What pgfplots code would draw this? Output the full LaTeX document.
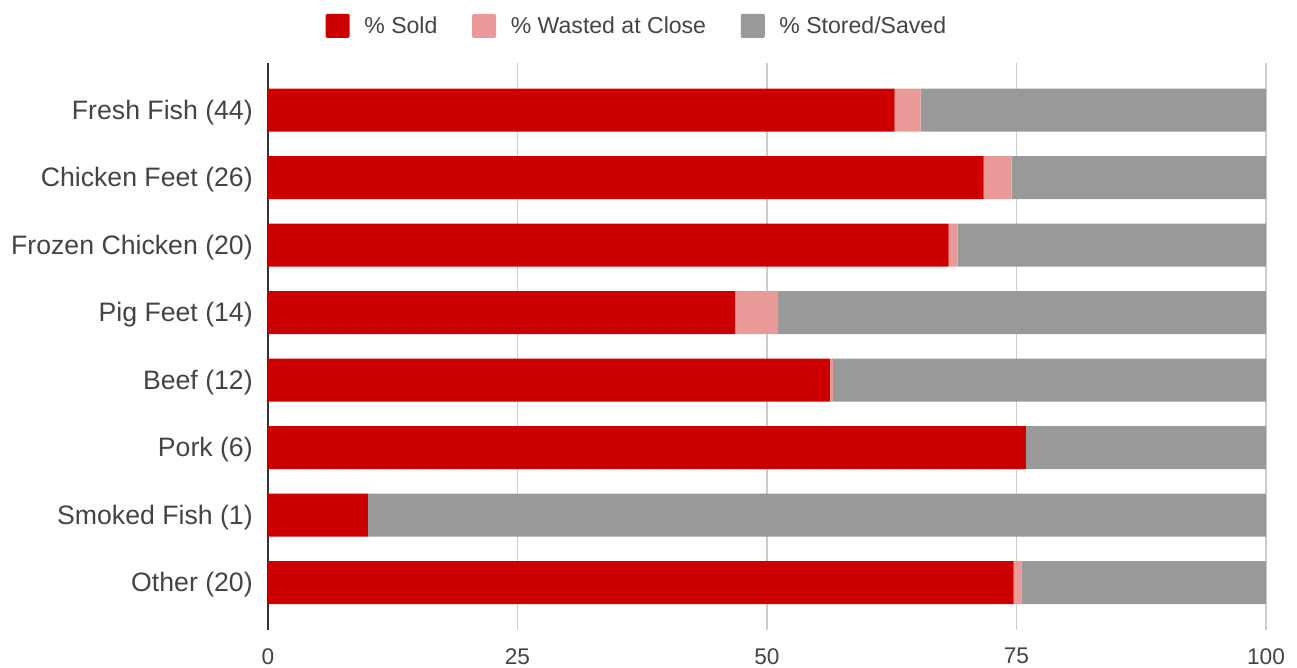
\documentclass[border=0pt]{standalone}
\usepackage{fontspec}
\setmainfont{Liberation Sans}
\usepackage{pgfplots}
\pgfplotsset{compat=1.18}
\definecolor{sold}{HTML}{CC0000}
\definecolor{waste}{HTML}{EA9999}
\definecolor{stored}{HTML}{999999}
\definecolor{txt}{HTML}{444444}
\definecolor{gridc}{HTML}{CCCCCC}
\definecolor{axc}{HTML}{333333}
\begin{document}
\begin{tikzpicture}
\begin{axis}[
  name=plot,
  scale only axis,
  width=748.5pt, height=425.25pt,
  xbar stacked, bar width=32.25pt,
  xmin=0, xmax=100,
  ymin=-0.7, ymax=7.7, y dir=reverse,
  ytick={0,1,2,3,4,5,6,7},
  yticklabels={Fresh Fish (44),Chicken Feet (26),Frozen Chicken (20),Pig Feet (14),Beef (12),Pork (6),Smoked Fish (1),Other (20)},
  xtick={0,25,50,75,100},
  major tick length=0pt,
  axis lines=left,
  axis line style={-},
  x axis line style={draw=none},
  y axis line style={draw=axc, line width=1.5pt},
  xmajorgrids,
  grid style={draw=gridc, line width=1.2pt},
  /pgf/number format/assume math mode=true,
  yticklabel style={font=\fontsize{20}{24}\selectfont, text=txt, inner sep=0pt, xshift=-11.25pt, yshift=-1.5pt},
  xticklabel style={font=\fontsize{17}{20}\selectfont, text=txt, inner sep=0pt, yshift=-13.5pt},
  legend style={at={(0.37,1.0655)}, anchor=center, draw=none, fill=none,
    legend columns=3, font=\fontsize{17.3}{20}\selectfont, text=txt,
    /tikz/every odd column/.append style={column sep=9pt},
    /tikz/every even column/.append style={column sep=24pt}},
  legend cell align=left,
]
\addplot[fill=sold, draw=none, legend image code/.code={\fill[sold, rounded corners=1pt] (0pt,-9pt) rectangle (18pt,9pt);}]
  coordinates {(62.8,0) (71.7,1) (68.2,2) (46.8,3) (56.3,4) (75.95,5) (10.0,6) (74.7,7)};
\addplot[fill=waste, draw=none, legend image code/.code={\fill[waste, rounded corners=1pt] (0pt,-9pt) rectangle (18pt,9pt);}]
  coordinates {(2.6,0) (2.8,1) (0.9,2) (4.3,3) (0.3,4) (0,5) (0,6) (0.8,7)};
\addplot[fill=stored, draw=none, legend image code/.code={\fill[stored, rounded corners=1pt] (0pt,-9pt) rectangle (18pt,9pt);}]
  coordinates {(34.6,0) (25.5,1) (30.9,2) (48.9,3) (43.4,4) (24.05,5) (90.0,6) (24.5,7)};
\legend{\% Sold, \% Wasted at Close, \% Stored/Saved}
\end{axis}
\pgfresetboundingbox
\path ([xshift=-201pt, yshift=-28.5pt]plot.south west) rectangle ([xshift=23.25pt, yshift=47.25pt]plot.north east);
\end{tikzpicture}
\end{document}
